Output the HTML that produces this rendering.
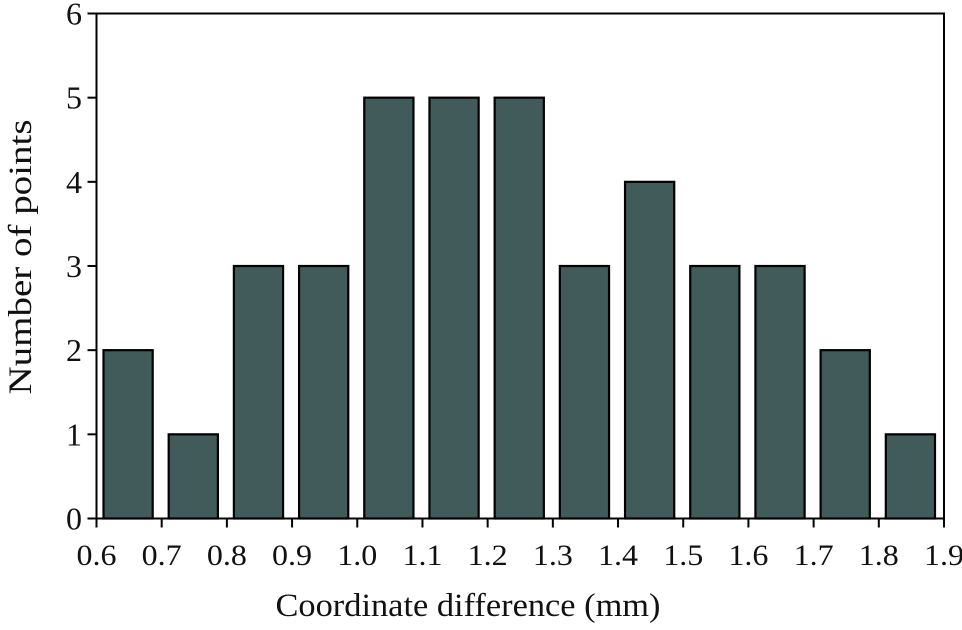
<!DOCTYPE html>
<html><head><meta charset="utf-8"><style>
html,body{margin:0;padding:0;background:#fff;}
svg{display:block;font-family:"Liberation Serif",serif;}
</style></head><body>
<svg id="chart" width="962" height="630" viewBox="0 0 962 630">
<g id="bars"></g>
<g id="axes"></g>
<text x="468" y="616" font-size="33" text-anchor="middle" fill="#111" textLength="385" lengthAdjust="spacingAndGlyphs">Coordinate difference (mm)</text>
<text transform="translate(31,257) rotate(-90)" font-size="33" text-anchor="middle" fill="#111" textLength="275" lengthAdjust="spacingAndGlyphs">Number of points</text>
</svg>
<script>
const binStarts = [0.6,0.7,0.8,0.9,1.0,1.1,1.2,1.3,1.4,1.5,1.6,1.7,1.8];
const counts = [2,1,3,3,5,5,5,3,4,3,3,2,1];
const xTicks = ["0.6","0.7","0.8","0.9","1.0","1.1","1.2","1.3","1.4","1.5","1.6","1.7","1.8","1.9"];
const yTicks = [0,1,2,3,4,5,6];

const X0=96.5, X1=944, Y0=518.5, Y1=13.5;
const xMin=0.6, xMax=1.9, yMax=6;
const sx = v => X0 + (v - xMin)/(xMax - xMin)*(X1 - X0);
const sy = v => Y0 - v/yMax*(Y0 - Y1);
const NS="http://www.w3.org/2000/svg";
const bars=document.getElementById('bars'), axes=document.getElementById('axes');
function mk(tag, attrs, parent){const e=document.createElementNS(NS,tag);for(const k in attrs)e.setAttribute(k,attrs[k]);parent.appendChild(e);return e;}

binStarts.forEach((b,i)=>{
  const xa=sx(b)+7, xb=sx(b+0.1)-9;
  const r=mk('rect',{x:xa,y:sy(counts[i]),width:xb-xa,height:sy(0)-sy(counts[i]),fill:'#415b5b',stroke:'#000','stroke-width':2.2},bars);
  
  
});

const frame=mk('rect',{x:X0,y:Y1,width:X1-X0,height:Y0-Y1,fill:'none',stroke:'#000','stroke-width':2},axes);



xTicks.forEach(t=>{
  const x=sx(parseFloat(t));
  const l=mk('line',{x1:x,y1:Y0,x2:x,y2:Y0+9,stroke:'#000','stroke-width':2},axes);
  
  
  const tx=mk('text',{x:x,y:565,'font-size':30,'text-anchor':'middle',fill:'#111',textLength:40,lengthAdjust:'spacingAndGlyphs'},axes);
  tx.textContent=t;
  
  
});
yTicks.forEach(t=>{
  const y=sy(t);
  const l=mk('line',{x1:X0-9,y1:y,x2:X0,y2:y,stroke:'#000','stroke-width':2},axes);
  
  
  const tx=mk('text',{x:82,y:y+11,'font-size':32,'text-anchor':'end',fill:'#111'},axes);
  tx.textContent=t;
  
  
});
</script>
</body></html>
